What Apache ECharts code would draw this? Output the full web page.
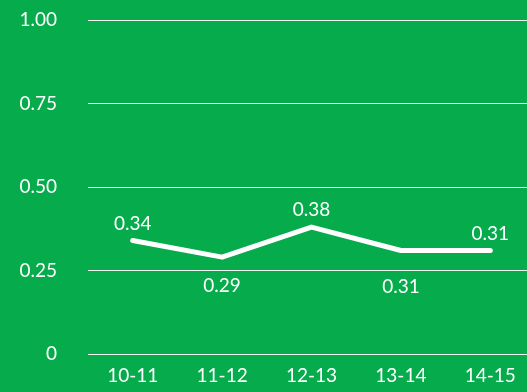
<!DOCTYPE html>
<html>
<head>
<meta charset="utf-8">
<script src="https://cdn.jsdelivr.net/npm/echarts@6/dist/echarts.min.js"></script>
<style>
  html, body { margin: 0; padding: 0; background: #06ab4b; }
  #chart { width: 527px; height: 392px; }
</style>
</head>
<body>
<div id="chart"></div>
<script>
// School years and the rate recorded for each
const categories = ['10-11', '11-12', '12-13', '13-14', '14-15'];
const values = [0.34, 0.29, 0.38, 0.31, 0.31];
const yTicks = [0, 0.25, 0.5, 0.75, 1];

const FONT = 'Lato';
const FS = 19;
const below = new Set([1, 3]);

const seriesData = values.map((v, i) => ({
  value: v,
  label: below.has(i)
    ? { position: 'bottom', distance: i === 1 ? 19 : 26 }
    : { position: 'top', distance: 7 }
}));

const chart = echarts.init(document.getElementById('chart'), null, { renderer: 'canvas' });
chart.setOption({
  backgroundColor: '#06ab4b',
  animation: false,
  grid: { left: 88, width: 447, top: 20, bottom: 38, containLabel: false, outerBoundsMode: 'none' },
  xAxis: {
    type: 'category',
    data: categories,
    boundaryGap: true,
    axisLine: { show: false },
    axisTick: { show: false },
    axisLabel: { color: '#fff', fontSize: FS, fontFamily: FONT, margin: 12 }
  },
  yAxis: {
    type: 'value',
    min: yTicks[0],
    max: yTicks[yTicks.length - 1],
    interval: yTicks[1] - yTicks[0],
    axisLine: { show: false },
    axisTick: { show: false },
    splitLine: { lineStyle: { color: 'rgba(255,255,255,0.95)', width: 1 } },
    axisLabel: {
      color: '#fff', fontSize: FS, fontFamily: FONT, margin: 31,
      formatter: v => (v === 0 ? '0' : v.toFixed(2))
    }
  },
  series: [{
    type: 'line',
    data: seriesData,
    symbol: 'circle',
    symbolSize: 1,
    showSymbol: true,
    itemStyle: { color: '#fff' },
    lineStyle: { color: '#fff', width: 5, cap: 'round', join: 'round' },
    label: {
      show: true, color: '#fff', fontSize: FS, fontFamily: FONT,
      formatter: p => p.value.toFixed(2)
    }
  }]
});
</script>
</body>
</html>
